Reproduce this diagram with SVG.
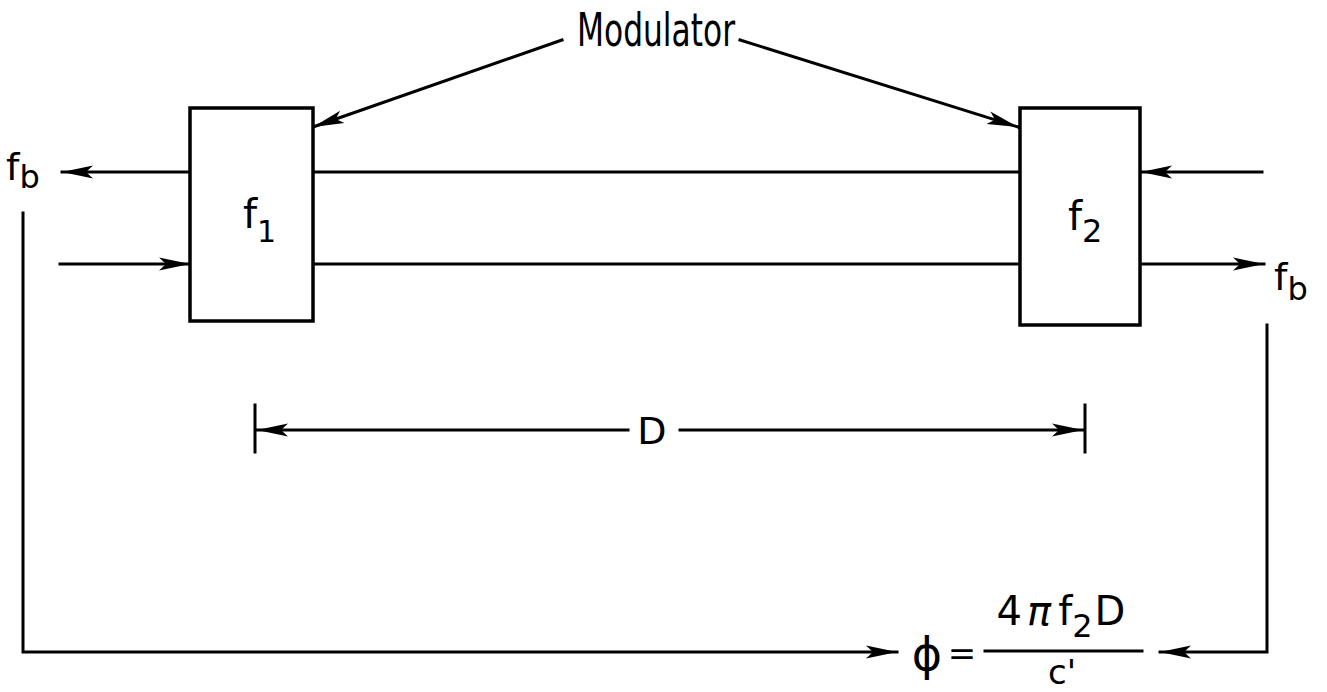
<svg xmlns="http://www.w3.org/2000/svg" width="1327" height="692" viewBox="0 0 1327 692">
<defs>
<marker id="ah" markerUnits="userSpaceOnUse" markerWidth="34" markerHeight="16" refX="31" refY="8" orient="auto">
<path d="M0,1.5 L31,8 L0,14.5 L7,8 z" fill="#000"/>
</marker>
<style>
.ln{stroke:#000;stroke-width:3;fill:none;stroke-linecap:square}
.bx{stroke:#000;stroke-width:3.5;fill:#fff}
.t{font-family:"DejaVu Sans",sans-serif;fill:#000}
</style>
</defs>
<rect width="1327" height="692" fill="#fff"/>
<g id="connectors">
<line class="ln" x1="313" y1="172" x2="1020" y2="172"/>
<line class="ln" x1="313" y1="264" x2="1020" y2="264"/>
<line class="ln" x1="190" y1="172" x2="62" y2="172" marker-end="url(#ah)"/>
<line class="ln" x1="60" y1="264" x2="190" y2="264" marker-end="url(#ah)"/>
<line class="ln" x1="1262" y1="172" x2="1141" y2="172" marker-end="url(#ah)"/>
<line class="ln" x1="1141" y1="264" x2="1264" y2="264" marker-end="url(#ah)"/>
<line class="ln" x1="562" y1="40" x2="313" y2="127" marker-end="url(#ah)"/>
<line class="ln" x1="740" y1="40" x2="1018" y2="127" marker-end="url(#ah)"/>
<polyline class="ln" points="23,213 23,652 897,652" marker-end="url(#ah)"/>
<polyline class="ln" points="1267,325 1267,652 1160,652" marker-end="url(#ah)"/>
<line class="ln" x1="255" y1="405" x2="255" y2="452"/>
<line class="ln" x1="1085" y1="405" x2="1085" y2="452"/>
<line class="ln" x1="628" y1="430" x2="257" y2="430" marker-end="url(#ah)"/>
<line class="ln" x1="680" y1="430" x2="1083" y2="430" marker-end="url(#ah)"/>
</g>
<g id="modulator1">
<rect class="bx" x="190" y="108" width="123" height="213"/>
<text class="t" x="243" y="228" font-size="40">f<tspan font-size="30" dy="14">1</tspan></text>
</g>
<g id="modulator2">
<rect class="bx" x="1020" y="108" width="120" height="217"/>
<text class="t" x="1068" y="230" font-size="40">f<tspan font-size="32" dy="12">2</tspan></text>
</g>
<g id="labels">
<text class="t" x="656" y="46" font-size="46" text-anchor="middle" textLength="158" lengthAdjust="spacingAndGlyphs">Modulator</text>
<text class="t" x="6" y="180" font-size="38">f<tspan font-size="32" dy="8">b</tspan></text>
<text class="t" x="1274" y="290" font-size="38">f<tspan font-size="32" dy="10">b</tspan></text>
<text class="t" x="652" y="444" font-size="38" text-anchor="middle">D</text>
<text class="t" x="927" y="670" font-size="46" text-anchor="middle">ϕ</text>
<text class="t" x="962" y="665" font-size="34" text-anchor="middle">=</text>
<line class="ln" x1="985" y1="651" x2="1142" y2="651"/>
<text class="t" x="1061" y="625" font-size="40" text-anchor="middle">4<tspan font-style="italic" dx="5">π</tspan><tspan dx="7">f</tspan><tspan font-size="32" dy="12">2</tspan><tspan dy="-12" dx="2">D</tspan></text>
<text class="t" x="1062" y="684" font-size="34" text-anchor="middle">c'</text>
</g>
</svg>
